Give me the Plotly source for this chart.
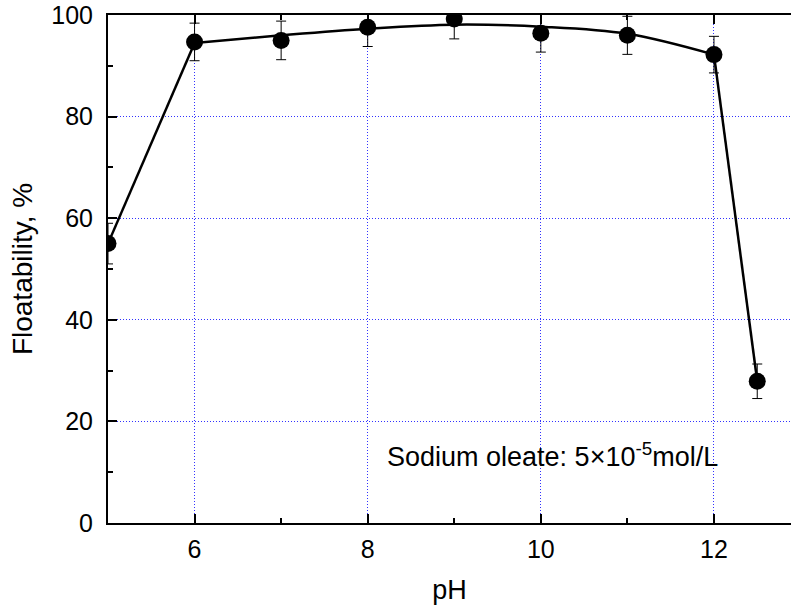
import plotly.graph_objects as go

# Measured data
ph = [5, 6, 7, 8, 9, 10, 11, 12, 12.5]
floatability = [55.0, 94.7, 95.0, 97.6, 99.2, 96.4, 96.0, 92.2, 27.9]
err = [4.0, 3.7, 3.8, 3.8, 3.9, 3.7, 3.75, 3.6, 3.4]

# Smoothed guide curve
fit_ph = [6, 7, 8, 9, 10, 11, 12]
fit_val = [94.5, 96.0, 97.3, 98.1, 97.7, 96.3, 92.2]
edge_ph = [5, 6, None, 12, 12.5]
edge_val = [55.0, 94.5, None, 92.2, 27.9]

x_ticks = [6, 8, 10, 12]
y_ticks = [0, 20, 40, 60, 80, 100]

FONT = "Liberation Sans, Arial, sans-serif"
GRID = "rgb(50,50,255)"

fig = go.Figure()
fig.add_trace(go.Scatter(x=edge_ph, y=edge_val, mode="lines",
                         line=dict(color="black", width=2.5), showlegend=False))
fig.add_trace(go.Scatter(x=fit_ph, y=fit_val, mode="lines",
                         line=dict(color="black", width=2.5, shape="spline", smoothing=1.0),
                         showlegend=False))
fig.add_trace(go.Scatter(x=ph, y=floatability, mode="markers",
                         marker=dict(color="black", size=17, symbol="circle"),
                         error_y=dict(type="data", array=err, visible=True,
                                      color="black", thickness=1, width=5),
                         showlegend=False))

fig.add_annotation(x=8.2, y=13.4, xref="x", yref="y",
                   text="Sodium oleate: 5×10<sup>-5</sup>mol/L",
                   showarrow=False, xanchor="left", yanchor="middle",
                   font=dict(family=FONT, size=27, color="black"))

fig.update_layout(
    width=791, height=610,
    margin=dict(l=108, r=0, t=15, b=87),
    paper_bgcolor="white", plot_bgcolor="white",
    font=dict(family=FONT, size=25, color="black"),
    xaxis=dict(range=[5, 12.89], tickvals=x_ticks, ticks="inside", ticklen=9,
               tickwidth=2, tickcolor="black", showline=True, linecolor="black",
               linewidth=2, mirror="ticks", showgrid=True, gridcolor=GRID,
               gridwidth=1, griddash="1px,2px", zeroline=False,
               ticklabelstandoff=3,
               title=dict(text="pH", font=dict(size=27), standoff=18),
               minor=dict(tick0=0, dtick=1, ticks="inside", ticklen=5,
                          tickwidth=2, tickcolor="black", showgrid=False)),
    yaxis=dict(range=[0, 100], tickvals=y_ticks, ticks="inside", ticklen=9,
               tickwidth=2, tickcolor="black", showline=True, linecolor="black",
               linewidth=2, mirror=False, showgrid=True, gridcolor=GRID,
               gridwidth=1, griddash="1px,2px", zeroline=False,
               ticklabelstandoff=8,
               title=dict(text="Floatability, %", font=dict(size=28), standoff=10),
               minor=dict(tick0=0, dtick=10, ticks="inside", ticklen=5,
                          tickwidth=2, tickcolor="black", showgrid=False)),
)

fig.write_html("out.html")
